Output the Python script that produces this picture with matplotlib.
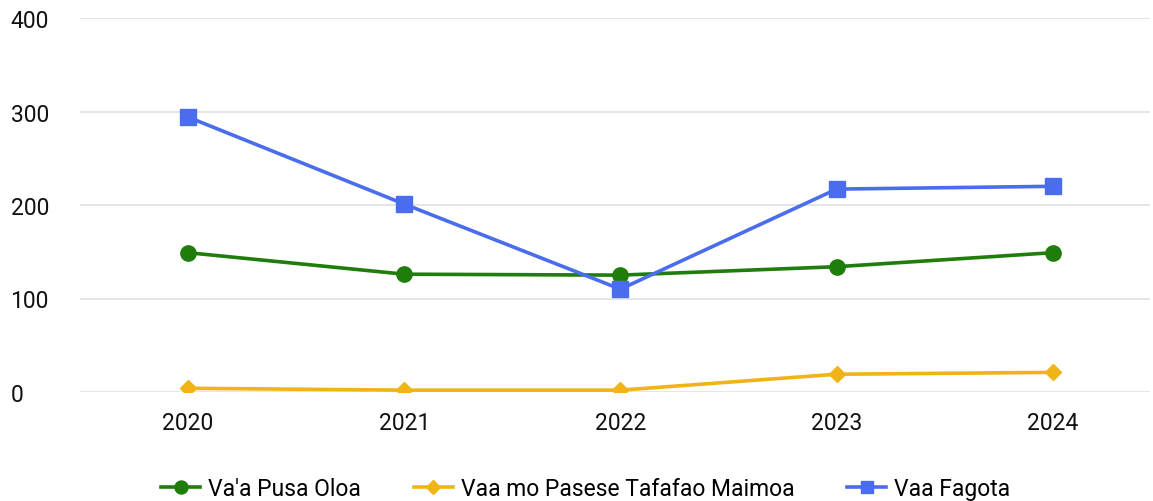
import numpy as np
import matplotlib
matplotlib.use("Agg")
import matplotlib.pyplot as plt

plt.rcParams['font.family'] = ['Roboto', 'DejaVu Sans']

years = ['2020', '2021', '2022', '2023', '2024']
pusa_oloa = [149, 126, 125, 134, 149]
pasese = [4, 2, 2, 19, 21]
fagota = [294, 201, 110, 217, 220]
y_ticks = [0, 100, 200, 300, 400]

fig = plt.figure(figsize=(11.53, 5.02), dpi=100)
ax = fig.add_axes([80/1153, 109/502, 1070/1153, 374/502])

x = np.arange(len(years))
ax.plot(x, pusa_oloa, color='#1f7d0b', lw=2.6, marker='o', ms=11, label="Va'a Pusa Oloa", zorder=3)
ax.plot(x, pasese, color='#f0b417', lw=2.6, marker='D', ms=8, label='Vaa mo Pasese Tafafao Maimoa', zorder=3)
ax.plot(x, fagota, color='#4a6ded', lw=2.6, marker='s', ms=11, label='Vaa Fagota', zorder=3)

ax.set_xlim(-0.5, 4.45)
ax.set_ylim(0, 400)
ax.set_xticks(x)
ax.set_xticklabels(years)
ax.set_yticks(y_ticks)
ax.grid(axis='y', color='#e0e0e0', lw=1.2)
ax.set_axisbelow(True)
for s in ax.spines.values():
    s.set_visible(False)
ax.tick_params(axis='both', length=0, labelsize=16.5, labelcolor='#111111')
ax.tick_params(axis='x', pad=14)
ax.tick_params(axis='y', pad=50)
for lab in ax.get_yticklabels():
    lab.set_ha('left')

fig.legend(loc='lower center', bbox_to_anchor=(0.508, -0.04), ncol=3, frameon=False,
           fontsize=16.5, handlelength=1.7, columnspacing=2.3, handletextpad=0.35,
           markerscale=0.85)

fig.savefig('out.png', dpi=100)
